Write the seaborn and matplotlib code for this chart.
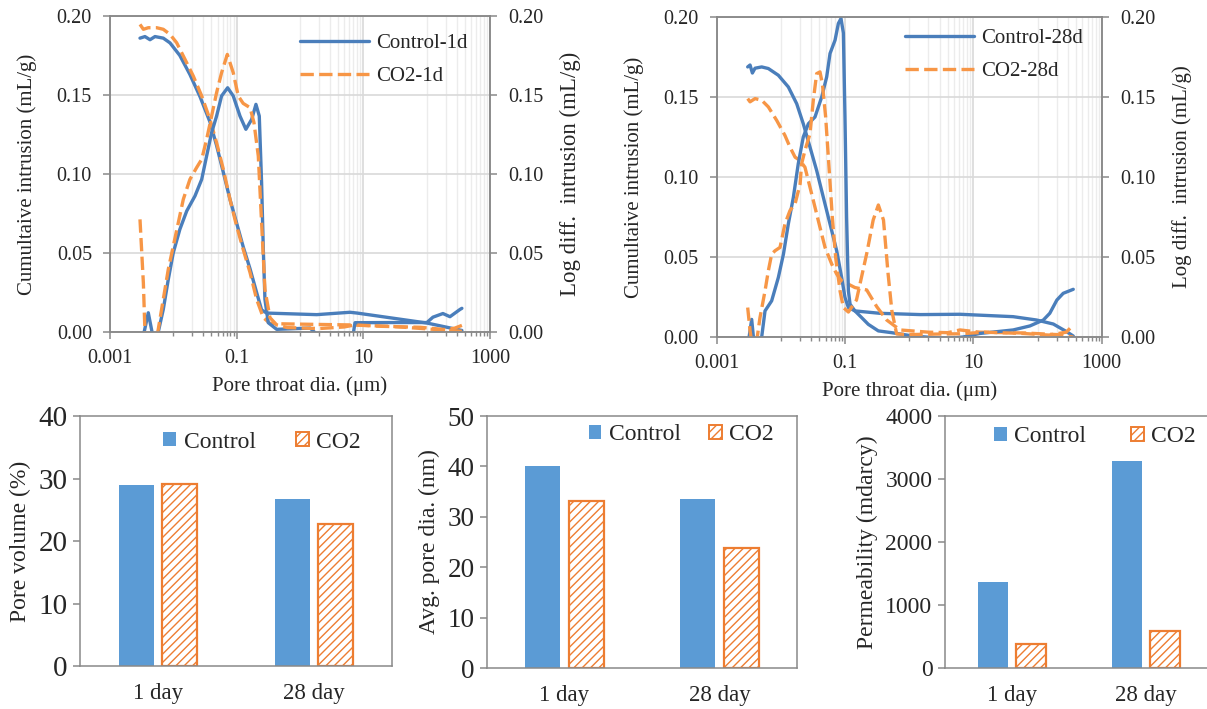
import numpy as np
import pandas as pd
import matplotlib
matplotlib.use("Agg")
import matplotlib.pyplot as plt
import seaborn as sns
from matplotlib.lines import Line2D
from matplotlib.patches import Patch
from matplotlib.ticker import FixedLocator, FormatStrFormatter, NullFormatter

# ---------------------------------------------------------------- data
# Pore throat diameter (um) and intrusion (mL/g), 1-day samples
ctrl_1d_cum_d = [0.00298, 0.00357, 0.00429, 0.00514, 0.00695, 0.00887, 0.0127, 0.0183,
                 0.0264, 0.0379, 0.0483, 0.0617, 0.0785, 0.100, 0.127, 0.163, 0.207,
                 0.248, 0.298, 1.84, 6.17, 8.0, 101, 361]
ctrl_1d_cum = [0.186, 0.187, 0.185, 0.187, 0.186, 0.183, 0.175, 0.163,
               0.149, 0.133, 0.118, 0.101, 0.084, 0.069, 0.054, 0.040, 0.025,
               0.014, 0.012, 0.011, 0.0125, 0.012, 0.0057, 0.001]

ctrl_1d_ldi_d = [0.00330, 0.00403, 0.00483, 0.00579, 0.00695, 0.00834, 0.0100, 0.0127,
                 0.0163, 0.0220, 0.0281, 0.0336, 0.0403, 0.0483, 0.0579, 0.0721, 0.0885,
                 0.113, 0.140, 0.173, 0.202, 0.228, 0.248, 0.264, 0.280, 0.316, 0.429,
                 1.45, 1.9, 6.9, 7.4, 26.3, 101, 126, 181, 234, 337, 361]
ctrl_1d_ldi = [-0.004, 0.0122, -0.004, 0.0, 0.0143, 0.0333, 0.0502, 0.065,
               0.0766, 0.0861, 0.0966, 0.1114, 0.1262, 0.1367, 0.1494, 0.1546, 0.1494,
               0.1367, 0.1283, 0.1346, 0.1441, 0.1367, 0.0945, 0.0523, 0.0207, 0.0059, 0.0017,
               0.0025, -0.002, -0.002, 0.0059, 0.006, 0.006, 0.0094, 0.0117, 0.0097, 0.0143, 0.015]

co2_1d_cum_d = [0.00298, 0.00337, 0.00403, 0.00546, 0.00695, 0.00887, 0.0113, 0.0153,
                0.0207, 0.0281, 0.0379, 0.0483, 0.0617, 0.0785, 0.100, 0.127, 0.163,
                0.207, 0.264, 0.336, 0.5, 2.0, 6.2, 30, 100, 234, 361]
co2_1d_cum = [0.1947, 0.1916, 0.1926, 0.1926, 0.1916, 0.1884, 0.1831, 0.1726,
              0.1620, 0.1494, 0.1346, 0.1198, 0.1030, 0.0840, 0.0671, 0.0523, 0.0376,
              0.0207, 0.0091, 0.0055, 0.0052, 0.0048, 0.0045, 0.0035, 0.002, 0.001, 0.0005]

co2_1d_ldi_d = [0.00298, 0.00337, 0.00357, 0.00430, 0.00546, 0.00579, 0.00695, 0.00834,
                0.0100, 0.0120, 0.0144, 0.0183, 0.0233, 0.0281, 0.0336, 0.0403, 0.0483,
                0.0579, 0.0713, 0.0885, 0.106, 0.127, 0.163, 0.188, 0.220, 0.248, 0.280,
                0.336, 0.429, 0.631, 2.0, 5.0, 7.4, 20, 80, 200, 280, 361]
co2_1d_ldi = [0.0713, 0.031, 0.0, -0.004, -0.004, 0.0017, 0.0207, 0.0397,
              0.0544, 0.0692, 0.0840, 0.0966, 0.1040, 0.1093, 0.1219, 0.1367, 0.1515,
              0.1641, 0.1757, 0.1641, 0.1494, 0.1447, 0.1420, 0.1325, 0.1114, 0.0692, 0.0270,
              0.0091, 0.0045, 0.0028, 0.0022, 0.0032, 0.0045, 0.0036, 0.003, 0.0015, 0.0025, 0.0042]

# 28-day samples
ctrl_28d_cum_d = [0.00305, 0.00332, 0.00361, 0.00397, 0.00504, 0.00640, 0.00916, 0.0131,
                  0.0177, 0.0224, 0.0285, 0.0362, 0.0460, 0.0585, 0.0743, 0.0887, 0.100,
                  0.113, 0.143, 0.35, 1.5, 6.17, 41.7, 96.8, 176, 284, 360]
ctrl_28d_cum = [0.1688, 0.170, 0.165, 0.168, 0.1688, 0.1678, 0.1636, 0.1563,
                0.1458, 0.1333, 0.1187, 0.1041, 0.0873, 0.0706, 0.0539, 0.0372, 0.0247,
                0.0184, 0.0163, 0.0148, 0.0140, 0.0142, 0.0127, 0.0106, 0.0081, 0.0033, 0.0006]

ctrl_28d_ldi_d = [0.00313, 0.00352, 0.00383, 0.00470, 0.00504, 0.00568, 0.00721, 0.00916,
                  0.0110, 0.0131, 0.0157, 0.0187, 0.0224, 0.0269, 0.0341, 0.0434, 0.0519,
                  0.0585, 0.0700, 0.0789, 0.0867, 0.0944, 0.100, 0.106, 0.113, 0.120, 0.143,
                  0.182, 0.231, 0.331, 0.533, 1.15, 3.84, 6.9, 12.6, 41.7, 75.9, 123, 155,
                  200, 251, 360]
ctrl_28d_ldi = [-0.003, 0.011, -0.004, -0.004, 0.0, 0.0163, 0.0226, 0.0372,
                0.0518, 0.0706, 0.0873, 0.1082, 0.1250, 0.1333, 0.1375, 0.1500, 0.1626,
                0.1772, 0.1855, 0.1960, 0.199, 0.190, 0.1375, 0.0748, 0.0288, 0.0205, 0.0163,
                0.0121, 0.0079, 0.0038, 0.0027, 0.0006, -0.001, 0.0, 0.0022, 0.0044, 0.0069, 0.0106, 0.0148,
                0.0231, 0.0273, 0.0298]

co2_28d_cum_d = [0.00305, 0.00332, 0.00397, 0.00504, 0.00640, 0.00863, 0.0116, 0.0139,
                 0.0167, 0.0200, 0.0238, 0.0285, 0.0341, 0.0408, 0.0489, 0.0621, 0.0743,
                 0.0887, 0.113, 0.143, 0.218, 0.312, 0.447, 0.72, 2.0, 4.0, 6.2, 12.6, 63,
                 200, 360]
co2_28d_cum = [0.149, 0.147, 0.149, 0.148, 0.1438, 0.1354, 0.1260, 0.1187,
               0.1124, 0.1103, 0.1061, 0.0936, 0.0811, 0.0685, 0.0560, 0.0456, 0.0393,
               0.0351, 0.0330, 0.0309, 0.0294, 0.019, 0.0106, 0.0044, 0.003, 0.0027, 0.0044, 0.003, 0.0025,
               0.0015, 0.0]

co2_28d_ldi_d = [0.00305, 0.00332, 0.00352, 0.00420, 0.00474, 0.00568, 0.00640, 0.00721,
                 0.00813, 0.00973, 0.0116, 0.0139, 0.0167, 0.0200, 0.0211, 0.0238, 0.0285,
                 0.0321, 0.0362, 0.0408, 0.0444, 0.0500, 0.0564, 0.0635, 0.0716, 0.0838,
                 0.0944, 0.113, 0.151, 0.219, 0.275, 0.331, 0.398, 0.468, 0.537, 0.638,
                 1.0, 2.5, 6.2, 15, 60, 150, 280, 360]
co2_28d_ldi = [0.0184, 0.004, -0.003, -0.003, 0.0121, 0.0288, 0.0414, 0.0518,
               0.0539, 0.0560, 0.0706, 0.0790, 0.0832, 0.0957, 0.1082, 0.1166, 0.1270,
               0.1479, 0.1646, 0.1657, 0.1584, 0.1375, 0.1061, 0.0748, 0.0497, 0.0288,
               0.0184, 0.0156, 0.0231, 0.0525, 0.0731, 0.0825, 0.0731, 0.0400, 0.0165, 0.0019,
               0.0015, 0.0018, 0.002, 0.003, 0.0022, 0.0012, 0.003, 0.0075]

# Summary properties
ages = ["1 day", "28 day"]
groups = ["Control", "CO2"]
pore_volume_control = [28.9, 26.8]
pore_volume_co2 = [29.1, 22.7]
avg_pore_dia_control = [40.0, 33.5]
avg_pore_dia_co2 = [33.2, 23.8]
permeability_control = [1360, 3280]
permeability_co2 = [380, 580]

x_major = [0.001, 0.1, 10, 1000]
x_major_labels = ["0.001", "0.1", "10", "1000"]

# ---------------------------------------------------------------- style
sns.set_style("white")
plt.rcParams["font.family"] = ["Liberation Serif", "DejaVu Serif"]
plt.rcParams["hatch.linewidth"] = 1.0
plt.rcParams["axes.unicode_minus"] = False

BLUE_LINE = "#4a7ebb"
ORANGE_LINE = "#f79646"
BAR_BLUE = "#5b9bd5"
BAR_ORANGE = "#ed7d31"
SPINE = "#898989"
GRID = "#d9d9d9"
GRID_MINOR = "#ececec"
DASH = (0, (4, 1.6))
LW = 2.4

fig = plt.figure(figsize=(12.07, 7.09), dpi=100)


def style_frame(ax):
    for s in ax.spines.values():
        s.set_color(SPINE)
        s.set_linewidth(1.1)
        s.set_visible(True)


def draw_line(ax, d, v, color, dashed):
    kws = dict(linestyle=DASH) if dashed else {}
    sns.lineplot(x=d, y=v, ax=ax, color=color, linewidth=LW, estimator=None,
                 sort=False, legend=False, **kws)


def mip_panel(rect, cum_sets, ldi_sets, names, legend_anchor, right_label_size):
    ax = fig.add_axes(rect)
    ax.set_xscale("log")
    ax.set_xlim(0.001, 1000)
    ax.set_ylim(0, 0.2)
    ax2 = ax.twinx()
    ax2.set_xscale("log")
    ax2.set_ylim(0, 0.2)

    colors = [BLUE_LINE, ORANGE_LINE]
    for (d, v), c, dashed in zip(cum_sets, colors, [False, True]):
        draw_line(ax, d, v, c, dashed)
    for (d, v), c, dashed in zip(ldi_sets, colors, [False, True]):
        draw_line(ax2, d, v, c, dashed)
    ax.set_xlim(0.001, 1000)
    ax2.set_xlim(0.001, 1000)
    ax.set_ylim(0, 0.2)
    ax2.set_ylim(0, 0.2)

    minor = [k * 10.0 ** n for n in (-2, 0, 2) for k in range(1, 10)]
    ax.xaxis.set_major_locator(FixedLocator(x_major))
    ax.set_xticklabels(x_major_labels)
    ax.xaxis.set_minor_locator(FixedLocator(minor))
    ax.xaxis.set_minor_formatter(NullFormatter())
    yt = np.arange(0, 0.201, 0.05)
    for a in (ax, ax2):
        a.set_yticks(yt)
        a.yaxis.set_major_formatter(FormatStrFormatter("%.2f"))
        style_frame(a)

    ax.grid(True, which="major", axis="both", color=GRID, linewidth=1.2)
    ax.grid(True, which="minor", axis="x", color=GRID_MINOR, linewidth=1.0)
    ax.set_axisbelow(True)

    ax.tick_params(axis="x", which="major", direction="out", length=5, width=1.1,
                   color=SPINE, labelsize=14.5, pad=7, bottom=True)
    ax.tick_params(axis="x", which="minor", direction="out", length=3, width=1.0,
                   color=SPINE, bottom=True)
    ax.tick_params(axis="y", direction="out", length=5, width=1.1, color=SPINE,
                   labelsize=14.5, pad=8, left=True)
    ax2.tick_params(axis="y", direction="out", length=5, width=1.1, color=SPINE,
                    labelsize=14.5, pad=8, right=True)

    ax.set_xlabel("Pore throat dia. (\u03bcm)", fontsize=15, labelpad=6)
    ax.set_ylabel("Cumultaive intrusion (mL/g)", fontsize=15, labelpad=14)
    ax2.set_ylabel("Log diff.  intrusion (mL/g)", fontsize=right_label_size, labelpad=12)

    handles = [Line2D([], [], color=BLUE_LINE, lw=LW),
               Line2D([], [], color=ORANGE_LINE, lw=LW, linestyle=DASH)]
    ax2.legend(handles, names, loc="upper left", bbox_to_anchor=legend_anchor,
               frameon=False, fontsize=15, handlelength=3.3, handletextpad=0.35,
               labelspacing=0.65, borderpad=0, borderaxespad=0)
    return ax


mip_panel([0.0911, 0.5317, 0.3148, 0.4457],
          [(ctrl_1d_cum_d, ctrl_1d_cum), (co2_1d_cum_d, co2_1d_cum)],
          [(ctrl_1d_ldi_d, ctrl_1d_ldi), (co2_1d_ldi_d, co2_1d_ldi)],
          ["Control-1d", "CO2-1d"], (0.50, 0.945), 16.5)

mip_panel([0.5937, 0.5247, 0.3191, 0.4513],
          [(ctrl_28d_cum_d, ctrl_28d_cum), (co2_28d_cum_d, co2_28d_cum)],
          [(ctrl_28d_ldi_d, ctrl_28d_ldi), (co2_28d_ldi_d, co2_28d_ldi)],
          ["Control-28d", "CO2-28d"], (0.489, 0.965), 15)


def bar_panel(rect, control, co2, ylabel, ymax, step, tick_size, leg_xy, colsp):
    ax = fig.add_axes(rect)
    df = pd.DataFrame({
        "Age": ages + ages,
        "Value": list(control) + list(co2),
        "Group": [groups[0]] * len(ages) + [groups[1]] * len(ages),
    })
    sns.barplot(data=df, x="Age", y="Value", hue="Group", order=ages,
                hue_order=groups, palette={"Control": BAR_BLUE, "CO2": "white"},
                saturation=1, width=0.56, gap=0.2, errorbar=None, legend=False, ax=ax)
    for bar in ax.containers[0]:
        bar.set_linewidth(0)
    for bar in ax.containers[1]:
        bar.set_hatch("////")
        bar.set_edgecolor(BAR_ORANGE)
        bar.set_linewidth(1.6)
    ax.set_xlim(-0.5, 1.5)
    ax.set_ylim(0, ymax)
    ax.set_yticks(np.arange(0, ymax + step / 2, step))
    style_frame(ax)
    ax.tick_params(axis="y", direction="out", length=5, width=1.1, color=SPINE,
                   labelsize=tick_size, pad=4, left=True)
    ax.tick_params(axis="x", length=0, labelsize=16.5, pad=12)
    ax.set_xlabel("")
    ax.set_ylabel(ylabel, fontsize=17, labelpad=5)
    handles = [Patch(facecolor=BAR_BLUE, edgecolor="none"),
               Patch(facecolor="white", edgecolor=BAR_ORANGE, hatch="////", linewidth=1.4)]
    ax.legend(handles, groups, ncol=2, loc="center", bbox_to_anchor=leg_xy,
              frameon=False, fontsize=17, handlelength=0.55, handleheight=0.55,
              handletextpad=0.3, columnspacing=colsp, borderpad=0)
    return ax


bar_panel([0.0663, 0.0606, 0.2585, 0.3526], pore_volume_control, pore_volume_co2,
          "Pore volume (%)", 40, 10, 21, (0.583, 0.896), 1.7)
bar_panel([0.4035, 0.0578, 0.2568, 0.3554], avg_pore_dia_control, avg_pore_dia_co2,
          "Avg. pore dia. (nm)", 50, 10, 19.5, (0.626, 0.925), 1.2)
bar_panel([0.7829, 0.0578, 0.2220, 0.3554], permeability_control, permeability_co2,
          "Permeability (mdarcy)", 4000, 1000, 17, (0.558, 0.917), 1.9)

fig.savefig("out.png", dpi=100)
